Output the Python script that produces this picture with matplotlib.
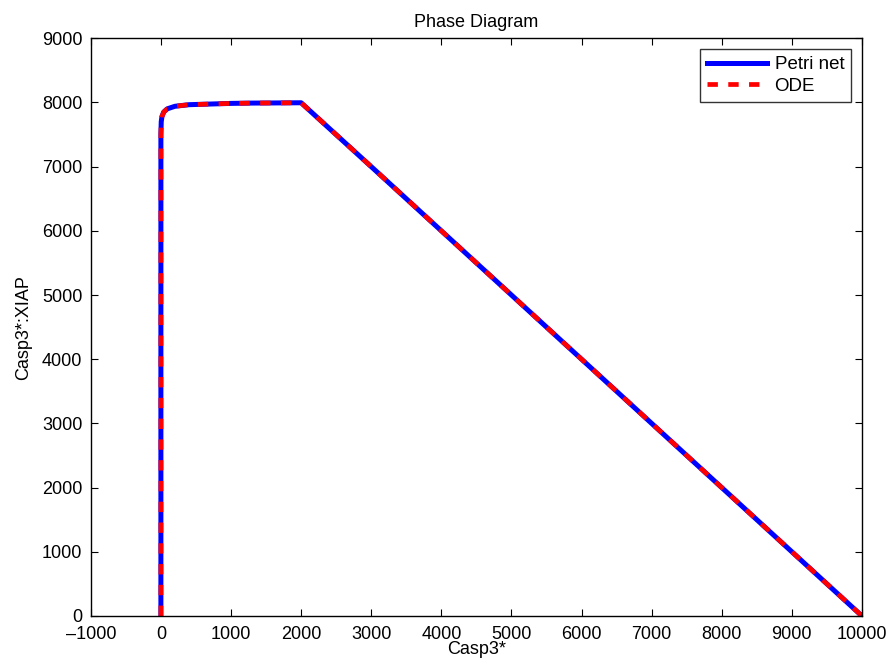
import matplotlib.pyplot as plt

plt.rcParams['font.family'] = ['Liberation Sans', 'DejaVu Sans']

# Casp3* vs Casp3*:XIAP trajectory for both models
casp3_petri = [0, 0, 0, 5, 15, 40, 90, 200, 400, 700, 1000, 1300, 1600, 2000,
               3000, 4000, 5000, 6000, 7000, 8000, 9000, 10000]
complex_petri = [0, 3000, 7500, 7700, 7780, 7850, 7900, 7940, 7965, 7975, 7985, 7990, 7992, 7995,
                 7000, 6000, 5000, 4000, 3000, 2000, 1000, 0]

casp3_ode = [0, 0, 0, 5, 15, 40, 90, 200, 400, 700, 1000, 1300, 1600, 2000,
             3000, 4000, 5000, 6000, 7000, 8000, 9000, 10000]
complex_ode = [0, 3000, 7500, 7700, 7780, 7850, 7900, 7940, 7965, 7975, 7985, 7990, 7992, 7995,
               7000, 6000, 5000, 4000, 3000, 2000, 1000, 0]

xticks = list(range(-1000, 10001, 1000))
yticks = list(range(0, 9001, 1000))

fig = plt.figure(figsize=(8.9, 6.71), dpi=100)
ax = fig.add_axes([0.102, 0.082, 0.8665, 0.861])

ax.plot(casp3_petri, complex_petri, color='blue', linewidth=3.6, label='Petri net')
ax.plot(casp3_ode, complex_ode, color='red', linewidth=3.4, linestyle=(0, (2.2, 2.2)), label='ODE')

ax.set_xlim(-1000, 10000)
ax.set_ylim(0, 9000)
ax.set_xticks(xticks)
ax.set_yticks(yticks)
ax.set_xticklabels(['\u20131000'] + [str(t) for t in xticks[1:]])
ax.tick_params(direction='in', top=True, right=True, labelsize=13, length=5)
ax.tick_params(axis='x', pad=7)
ax.tick_params(axis='y', pad=6)
for s in ax.spines.values():
    s.set_linewidth(1.0)

ax.set_title('Phase Diagram', fontsize=13, pad=8)
ax.set_xlabel('Casp3*', fontsize=13, labelpad=-1)
ax.set_ylabel('Casp3*:XIAP', fontsize=13, labelpad=7)

leg = ax.legend(loc='upper right', fontsize=13.5, fancybox=False, edgecolor='black',
                handlelength=3.2, borderpad=0.35, labelspacing=0.25, handletextpad=0.4,
                borderaxespad=0.6)
leg.get_frame().set_linewidth(1.0)

fig.savefig('out.png', dpi=100)
